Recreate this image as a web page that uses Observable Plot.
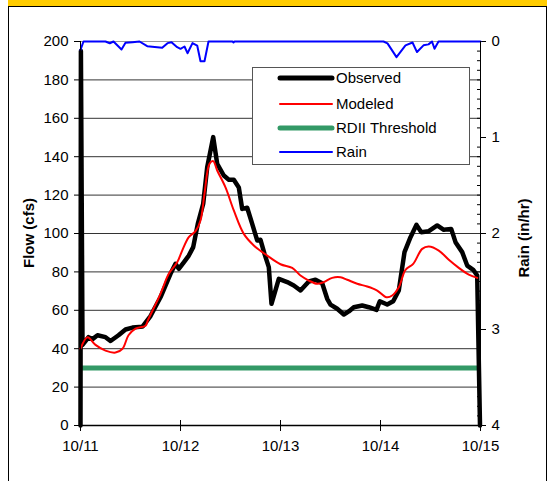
<!DOCTYPE html>
<html><head><meta charset="utf-8">
<script src="https://cdn.jsdelivr.net/npm/d3@7"></script>
<script src="https://cdn.jsdelivr.net/npm/@observablehq/plot@0.6"></script>
<style>
body{margin:0;background:#fff;font-family:"Liberation Sans",Arial,sans-serif;}
#wrap{position:relative;width:553px;height:481px;overflow:hidden;background:#fff;}
#band{position:absolute;left:8px;top:0;width:539px;height:6px;background:#ffcc00;}
#panel{position:absolute;left:8px;top:6px;width:537px;height:480px;border:1px solid #000;background:#fff;}
#chart{position:absolute;left:0;top:0;}
.ytitle{position:absolute;font-weight:bold;font-size:15px;white-space:nowrap;transform:translate(-50%,-50%) rotate(-90deg);}
#legend{position:absolute;left:252px;top:67px;width:216px;height:96px;border:1px solid #555;background:#fff;}
.item{position:absolute;left:0;height:20px;font-size:15px;}
.item svg{position:absolute;left:24px;top:0;}
.item span{position:absolute;left:83px;top:1px;white-space:nowrap;}
</style></head>
<body>
<div id="wrap">
  <div id="band"></div>
  <div id="panel"></div>
  <div id="chart"></div>
  <div class="ytitle" style="left:28px;top:233px;">Flow (cfs)</div>
  <div class="ytitle" style="left:523px;top:238px;">Rain (in/hr)</div>
  <div id="legend"></div>
</div>
<script>
// x positions are days after 10/11 00:00
const dayLabels = ["10/11", "10/12", "10/13", "10/14", "10/15"];
const flowTicks = [0, 20, 40, 60, 80, 100, 120, 140, 160, 180, 200];
const rainTicks = [0, 1, 2, 3, 4];
const threshold = 30;

const obsDay = [0, 0.004, 0.02, 0.05, 0.08, 0.12, 0.17, 0.25, 0.30, 0.38, 0.45, 0.52, 0.62, 0.70, 0.80, 0.90, 0.95, 0.983,
  1.033, 1.083, 1.127, 1.173, 1.227, 1.267, 1.327, 1.367, 1.433, 1.483, 1.533, 1.583, 1.617, 1.667, 1.717, 1.767, 1.80,
  1.84, 1.883, 1.91, 1.983, 2.067, 2.133, 2.20, 2.283, 2.35, 2.417, 2.467, 2.50, 2.567, 2.633, 2.683, 2.733, 2.817, 2.883,
  2.96, 2.993, 3.067, 3.127, 3.183, 3.24, 3.30, 3.36, 3.407, 3.483, 3.567, 3.633, 3.707, 3.75, 3.817, 3.867, 3.927, 3.967, 3.995];
const obsFlow = [0, 195, 42, 44, 46, 45, 47, 46, 44, 47, 50, 51, 51.5, 57, 66.8, 79, 84.2, 81.6,
  85, 88.5, 92.9, 105, 115.5, 134.5, 150.2, 136.3, 130.2, 128, 128, 124, 112.8, 113.4, 105, 96.4, 96.7,
  89.4, 82.5, 63.4, 76.4, 74.7, 72.9, 70.3, 75, 75.9, 74.1, 66, 63, 60.8, 57.8, 59.4, 61.6, 62.5, 61.6,
  60.2, 64.7, 63, 64.7, 70.3, 90.3, 98.1, 104.5, 100.7, 101.2, 104.2, 101.9, 102.4, 95.5, 90.3, 83.3, 81.1, 78.1, 0];

const modDay = [0, 0.07, 0.15, 0.25, 0.35, 0.42, 0.48, 0.55, 0.65, 0.673, 0.80, 0.883, 0.967, 1.017, 1.083, 1.15, 1.20,
  1.24, 1.29, 1.327, 1.367, 1.45, 1.533, 1.633, 1.733, 1.867, 2.00, 2.117, 2.20, 2.283, 2.367, 2.433, 2.517, 2.60,
  2.667, 2.767, 2.867, 2.967, 3.06, 3.117, 3.183, 3.25, 3.327, 3.417, 3.483, 3.583, 3.683, 3.783, 3.883, 3.967];
const modFlow = [40, 46, 42, 39, 38, 40, 47, 50.5, 52, 54.7, 68.6, 79, 85, 91.1, 98.1, 101.2, 106.8,
  120.7, 136.3, 137.7, 132.8, 124, 112, 99.8, 93.8, 88.5, 84, 82.1, 78.1, 75.5, 73.8, 74.7, 76.9, 77.2,
  75.9, 73.8, 72.4, 70.3, 66.8, 67.7, 72, 81.1, 84.2, 92, 93.2, 91.1, 86.3, 82.1, 78.6, 76.9];

const rainDay = [0, 0.03, 0.25, 0.293, 0.33, 0.41, 0.45, 0.52, 0.59, 0.667, 0.767, 0.817, 0.87, 0.91, 0.967, 1.0, 1.04,
  1.07, 1.12, 1.167, 1.20, 1.24, 1.28, 1.52, 1.53, 1.54, 3.03, 3.07, 3.16, 3.25, 3.32, 3.365, 3.43, 3.48, 3.515, 3.54, 3.58, 4.0];
const rainRate = [0.087, 0, 0, 0.018, 0, 0.083, 0.014, 0.007, 0, 0.049, 0.059, 0.066, 0.017, 0.007, 0.059, 0.076, 0.052,
  0.122, 0.017, 0.042, 0.205, 0.205, 0, 0, 0.01, 0, 0, 0.02, 0.163, 0.04, 0.01, 0.11, 0.04, 0.03, 0, 0.075, 0, 0];

const observed = obsDay.map((t, i) => ({t, v: obsFlow[i]}));
const modeled = modDay.map((t, i) => ({t, v: modFlow[i]}));
const rain = rainDay.map((t, i) => ({t, r: rainRate[i]}));
// right axis: rain 0 at top (flow 200), rain 4 at bottom (flow 0)
const rainToY = r => 200 - r * 50;
const minorRain = d3.range(0, 4.0001, 0.1).map(r => Math.round(r * 10) / 10).filter(r => !rainTicks.includes(r));

const chart = Plot.plot({
  width: 553, height: 481,
  marginLeft: 80, marginRight: 73, marginTop: 41, marginBottom: 56,
  x: {domain: [0, 4]},
  y: {domain: [0, 200]},
  style: {background: "transparent", fontFamily: '"Liberation Sans", Arial, sans-serif', fontSize: "15px", color: "#000", overflow: "visible"},
  marks: [
    Plot.gridY(flowTicks.filter(v => v > 0 && v < 200), {stroke: "#333", strokeOpacity: 1}),
    Plot.ruleY([200], {stroke: "#999"}),
    Plot.axisY({ticks: flowTicks, tickSize: 6, tickPadding: 6, label: null, fontSize: 15}),
    Plot.axisY({anchor: "right", ticks: rainTicks.map(rainToY), tickFormat: v => String((200 - v) / 50), tickSize: 5, tickPadding: 6, label: null, fontSize: 15}),
    Plot.axisY({anchor: "right", ticks: minorRain.map(rainToY), tickFormat: () => "", tickSize: 4, dx: -4, label: null}),
    Plot.axisX({ticks: [0, 1, 2, 3, 4], tickFormat: i => dayLabels[i], tickSize: 6, tickPadding: 9, label: null, fontSize: 15}),
    Plot.axisX({ticks: [0, 1, 2, 3, 4], tickFormat: () => "", tickSize: 5, dy: -5, label: null}),
    Plot.ruleY([threshold], {stroke: "#339966", strokeWidth: 5}),
    Plot.line(observed, {x: "t", y: "v", stroke: "#000", strokeWidth: 4.5, strokeLinejoin: "round"}),
    Plot.line(modeled, {x: "t", y: "v", stroke: "#ff0000", strokeWidth: 2, curve: "catmull-rom"}),
    Plot.line(rain, {x: "t", y: d => rainToY(d.r), stroke: "#0000ff", strokeWidth: 2}),
    Plot.ruleX([0], {stroke: "#000"}),
    Plot.ruleX([4], {stroke: "#000"}),
    Plot.ruleY([0], {stroke: "#000", strokeWidth: 1.5})
  ]
});
document.getElementById("chart").appendChild(chart);

const legendItems = [
  {name: "Observed", color: "#000", w: 5},
  {name: "Modeled", color: "#ff0000", w: 2},
  {name: "RDII Threshold", color: "#339966", w: 5},
  {name: "Rain", color: "#0000ff", w: 2}
];
const legendTops = [0, 26, 50, 74];
const lg = document.getElementById("legend");
legendItems.forEach((it, i) => {
  const d = document.createElement("div");
  d.className = "item";
  d.style.top = legendTops[i] + "px";
  d.innerHTML = `<svg width="60" height="20"><line x1="${3}" x2="${55}" y1="10" y2="10" stroke="${it.color}" stroke-width="${it.w}" stroke-linecap="round"/></svg><span>${it.name}</span>`;
  lg.appendChild(d);
});
</script>
</body></html>
